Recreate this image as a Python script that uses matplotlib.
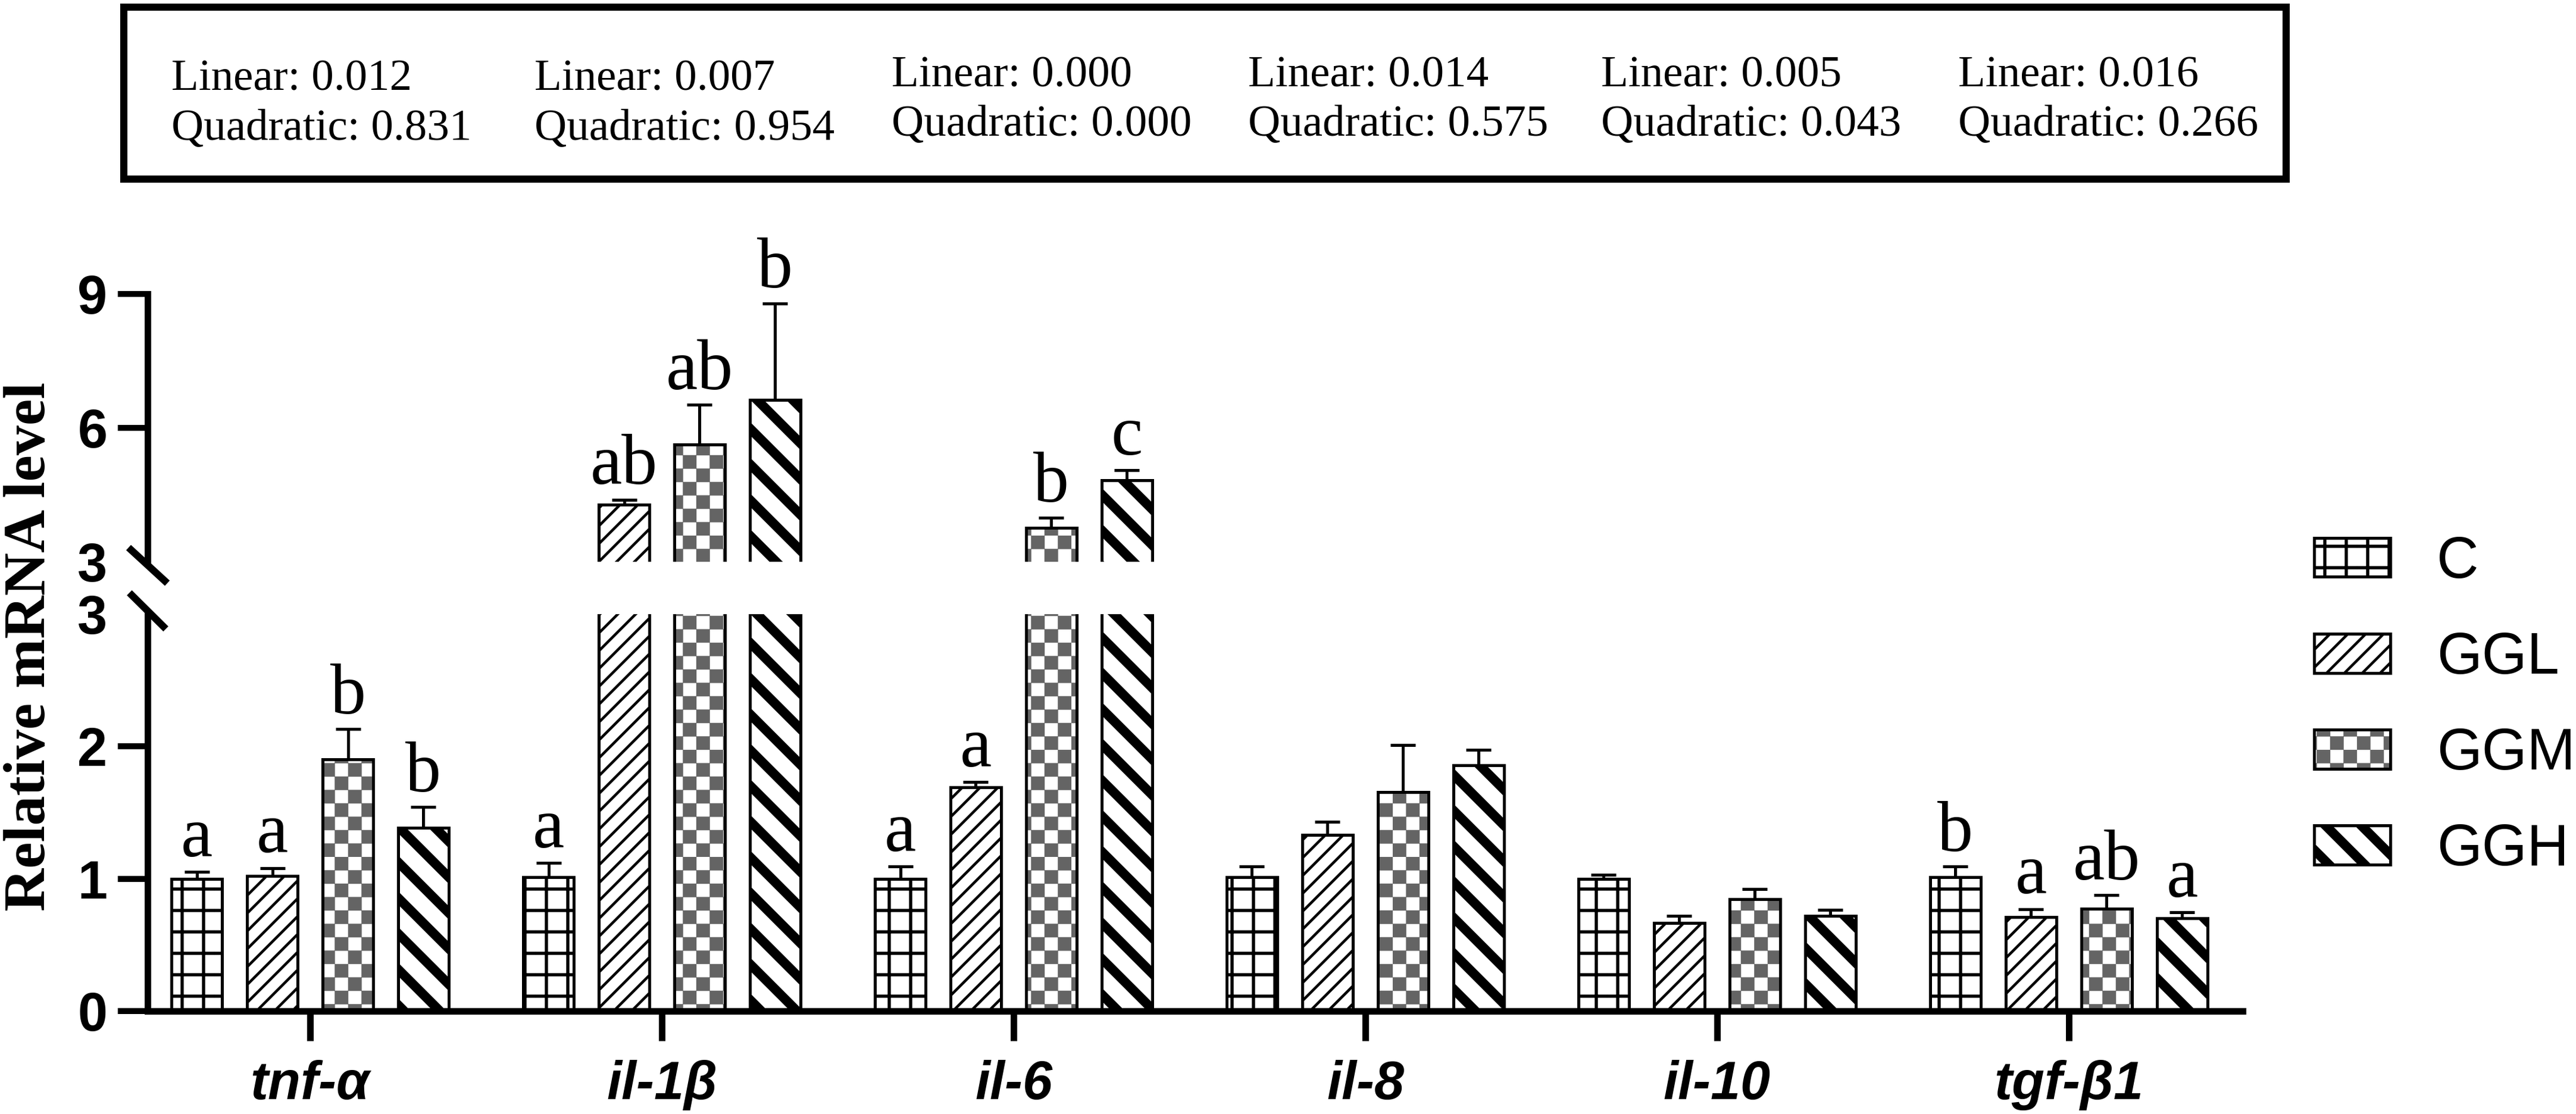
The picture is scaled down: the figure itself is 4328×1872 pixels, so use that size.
import numpy as np
import matplotlib
matplotlib.use('Agg')
import matplotlib.pyplot as plt
import matplotlib.hatch as mhatch
import matplotlib.patches as mpatches
from matplotlib.path import Path
from matplotlib.legend_handler import HandlerTuple

## data
genes = ['tnf-α', 'il-1β', 'il-6', 'il-8', 'il-10', 'tgf-β1']
groups = ['C', 'GGL', 'GGM', 'GGH']

C_mean = [1.00, 1.01, 1.00, 1.01, 1.00, 1.01]
C_err = [0.05, 0.11, 0.09, 0.08, 0.03, 0.08]
GGL_mean = [1.02, 4.28, 1.69, 1.33, 0.665, 0.71]
GGL_err = [0.06, 0.11, 0.04, 0.10, 0.055, 0.06]
GGM_mean = [1.90, 5.63, 3.76, 1.655, 0.845, 0.775]
GGM_err = [0.23, 0.89, 0.23, 0.355, 0.075, 0.10]
GGH_mean = [1.385, 6.63, 4.83, 1.855, 0.72, 0.70]
GGH_err = [0.155, 2.16, 0.22, 0.12, 0.045, 0.045]

C_sig = ['a', 'a', 'a', '', '', 'b']
GGL_sig = ['a', 'ab', 'a', '', '', 'a']
GGM_sig = ['b', 'ab', 'b', '', '', 'ab']
GGH_sig = ['b', 'b', 'c', '', '', 'a']

lin_p = ['0.012', '0.007', '0.000', '0.014', '0.005', '0.016']
quad_p = ['0.831', '0.954', '0.000', '0.575', '0.043', '0.266']

means = [C_mean, GGL_mean, GGM_mean, GGH_mean]
errs = [C_err, GGL_err, GGM_err, GGH_err]
sigs = [C_sig, GGL_sig, GGM_sig, GGH_sig]

DPI = 180
W, H = 4328, 1872


## custom hatches (unit tile = DPI pixels), drawn as filled shapes
def grid_polys(n=5, w=0.026):
    polys = []
    for c in (np.arange(n) + 0.5) / n:
        polys.append([(0, c - w / 2), (1, c - w / 2), (1, c + w / 2), (0, c + w / 2)])
        polys.append([(c - w / 2, 0), (c + w / 2, 0), (c + w / 2, 1), (c - w / 2, 1)])
    return polys


def diag_polys(n, t, sign):
    polys = []
    for k in range(-n, 2 * n + 1):
        b = k / n
        polys.append([(0, b - t / 2), (1, b + sign - t / 2), (1, b + sign + t / 2), (0, b + t / 2)])
    return polys


def checker_polys(n=8):
    s = 1.0 / n
    polys = []
    for i in range(n):
        for j in range(n):
            if (i + j) % 2 == 0:
                polys.append([(i * s, j * s), ((i + 1) * s, j * s), ((i + 1) * s, (j + 1) * s), (i * s, (j + 1) * s)])
    return polys


class PolyHatch:
    char = None
    shapes = []

    def __init__(self, hatch, density):
        self.polys = self.shapes if self.char in hatch else []
        self.num_vertices = 5 * len(self.polys)

    def set_vertices_and_codes(self, vertices, codes):
        for k, poly in enumerate(self.polys):
            vertices[5 * k:5 * k + 4] = poly
            vertices[5 * k + 4] = poly[0]
            codes[5 * k] = Path.MOVETO
            codes[5 * k + 1:5 * k + 4] = Path.LINETO
            codes[5 * k + 4] = Path.CLOSEPOLY


GridH = type('GridH', (PolyHatch,), {'char': '+', 'shapes': grid_polys()})
ThinH = type('ThinH', (PolyHatch,), {'char': '/', 'shapes': diag_polys(6, 0.031, 1)})
ThickH = type('ThickH', (PolyHatch,), {'char': '\\', 'shapes': diag_polys(3, 0.12, -1)})
CheckH = type('CheckH', (PolyHatch,), {'char': '*', 'shapes': checker_polys()})
mhatch._hatch_types = [GridH, ThinH, ThickH, CheckH]

# C grid, GGL thin /, GGM grey checker, GGH thick \
hatches = ['+', '/', '*', '\\']
hatch_cols = ['black', 'black', '#646464', 'black']

plt.rcParams['font.family'] = 'Liberation Sans'
plt.rcParams['hatch.linewidth'] = 0.2

fig = plt.figure(figsize=(W / DPI, H / DPI), dpi=DPI)

left = 248 / W
width = (3768 - 248) / W
ax_bot = fig.add_axes([left, (H - 1699) / H, width, (1699 - 1031.5) / H])
ax_top = fig.add_axes([left, (H - 944) / H, width, (944 - 494) / H])

gap = 4.654
centers = np.arange(len(genes)) * gap
offsets = np.arange(4) - 1.5
bar_w = 0.67

for ax in (ax_bot, ax_top):
    for i in range(4):
        xs = centers + offsets[i]
        ax.bar(xs, means[i], width=bar_w, color='white', edgecolor=hatch_cols[i],
               linewidth=0, hatch=hatches[i], zorder=1)
        ax.bar(xs, means[i], width=bar_w, fill=False, edgecolor='black',
               linewidth=2, zorder=2)
        ax.errorbar(xs, means[i], yerr=[np.zeros(len(genes)), errs[i]], fmt='none',
                    ecolor='black', elinewidth=2, capsize=8.4, capthick=2, zorder=1.5)
    ax.set_xlim(-2.15, 5 * gap + 2.30)
    for s in ('top', 'right'):
        ax.spines[s].set_visible(False)
    ax.spines['left'].set_linewidth(4.4)
    ax.spines['bottom'].set_linewidth(4.4)
    ax.tick_params(axis='y', which='major', length=20, width=4, pad=7, labelsize=36)
    ax.tick_params(axis='y', which='minor', length=0, pad=27, labelsize=36)

ax_bot.set_ylim(0, 3)
ax_top.set_ylim(3, 9)
ax_bot.set_yticks([0, 1, 2], ['0', '1', '2'], fontweight='bold')
ax_bot.set_yticks([3], ['3'], minor=True, fontweight='bold')
ax_top.set_yticks([6, 9], ['6', '9'], fontweight='bold')
ax_top.set_yticks([3], ['3'], minor=True, fontweight='bold')
ax_top.spines['bottom'].set_visible(False)
ax_top.set_xticks([])

ax_bot.set_xticks(centers, genes, fontsize=36, fontweight='bold', fontstyle='italic')
ax_bot.tick_params(axis='x', length=20, width=4.4, pad=12.8)

## letters above the error bars
for i in range(4):
    for j in range(len(genes)):
        if sigs[i][j] == '':
            continue
        top = means[i][j] + errs[i][j]
        ax = ax_top if top > 3 else ax_bot
        ax.annotate(sigs[i][j], xy=(centers[j] + offsets[i], top), xytext=(0, 10.5),
                    textcoords='offset points', ha='center', va='baseline',
                    fontsize=48, family='Liberation Serif')

## break marks
ax_top.plot([-0.0091, 0.0094], [0.053, -0.08], transform=ax_top.transAxes,
            color='black', lw=4.8, clip_on=False, solid_capstyle='butt')
ax_bot.plot([-0.0087, 0.0087], [1.053, 0.962], transform=ax_bot.transAxes,
            color='black', lw=4.8, clip_on=False, solid_capstyle='butt')

fig.text(51 / W, 1 - 1086 / H, 'Relative mRNA level', rotation=90, fontsize=40,
         fontweight='bold', family='Liberation Serif', ha='center', va='center')

## p-value box
fig.add_artist(mpatches.Rectangle((208 / W, 1 - 301 / H), (3841 - 208) / W, (301 - 12) / H,
                                  fill=False, lw=4.8, edgecolor='black',
                                  transform=fig.transFigure))
col_x = [288, 898, 1498, 2097, 2690, 3290]
for j in range(len(genes)):
    dy = 0 if j < 2 else 7
    fig.text(col_x[j] / W, 1 - (152 - dy) / H, 'Linear: ' + lin_p[j], fontsize=30,
             family='Liberation Serif', va='baseline', ha='left')
    fig.text(col_x[j] / W, 1 - (235 - dy) / H, 'Quadratic: ' + quad_p[j], fontsize=30,
             family='Liberation Serif', va='baseline', ha='left')

## legend
handles = []
for i in range(4):
    pat = mpatches.Patch(facecolor='white', edgecolor=hatch_cols[i], lw=0, hatch=hatches[i])
    out = mpatches.Patch(facecolor='none', edgecolor='black', lw=2)
    handles.append((pat, out))
fig.legend(handles, groups, handler_map={tuple: HandlerTuple(ndivide=1, pad=0)},
           loc='center left', bbox_to_anchor=(3888 / W, 1 - 1187 / H), frameon=False,
           fontsize=39, handlelength=1.31, handleheight=0.66, handletextpad=0.8,
           labelspacing=0.72, borderpad=0, borderaxespad=0)

fig.savefig('out.png', dpi=DPI)
